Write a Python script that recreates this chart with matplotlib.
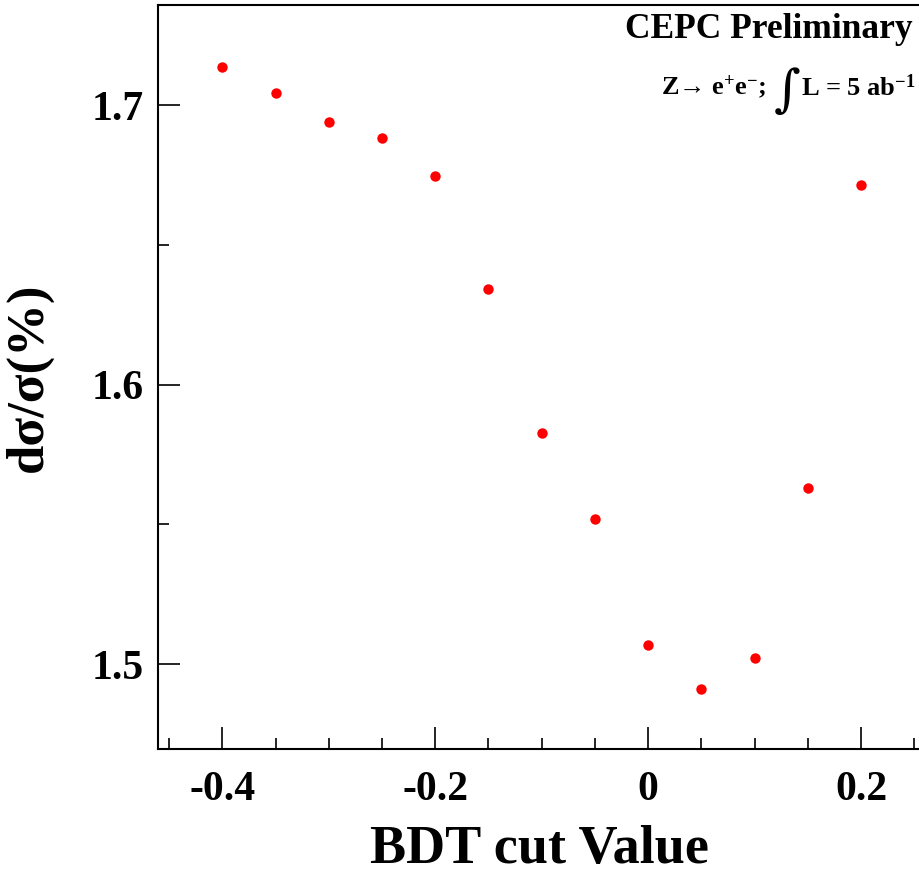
import numpy as np
import matplotlib.pyplot as plt
from matplotlib.ticker import MultipleLocator

# BDT cut scan
bdt_cut = [-0.4, -0.35, -0.3, -0.25, -0.2, -0.15, -0.1, -0.05, 0.0, 0.05, 0.1, 0.15, 0.2]
precision = [1.7135, 1.7043, 1.6940, 1.6882, 1.6746, 1.6343, 1.5825, 1.5520,
             1.5068, 1.4912, 1.5023, 1.5631, 1.6715]

plt.rcParams['font.family'] = ['Liberation Serif', 'DejaVu Serif']
plt.rcParams['font.weight'] = 'bold'
plt.rcParams['mathtext.fontset'] = 'custom'
plt.rcParams['mathtext.rm'] = 'Liberation Serif:bold'
plt.rcParams['mathtext.it'] = 'Liberation Serif:bold'
plt.rcParams['mathtext.bf'] = 'Liberation Serif:bold'

fig = plt.figure(figsize=(9.2, 8.75), dpi=100)
ax = fig.add_axes([158 / 920, 1 - 749 / 875, 1 - 158 / 920, (749 - 5) / 875])

ax.plot(bdt_cut, precision, 'o', color='#ff0000', markersize=7.5, markeredgewidth=0)

ax.set_xlim(-0.4604, 0.2554)
ax.set_ylim(1.4696, 1.7358)
ax.xaxis.set_major_locator(MultipleLocator(0.2))
ax.xaxis.set_minor_locator(MultipleLocator(0.05))
ax.yaxis.set_major_locator(MultipleLocator(0.1))
ax.yaxis.set_minor_locator(MultipleLocator(0.05))
ax.xaxis.set_major_formatter(plt.FuncFormatter(lambda v, p: '0' if abs(v) < 1e-9 else f'{v:.1f}'))

ax.tick_params(which='both', direction='in', width=1.2, labelsize=30, top=False, right=False)
ax.tick_params(which='major', length=16, pad=10)
ax.tick_params(which='minor', length=8)
ax.tick_params(axis='x', pad=16)
for lab in ax.get_xticklabels() + ax.get_yticklabels():
    lab.set_fontweight('bold')

ax.spines['right'].set_visible(False)
for s in ['left', 'bottom', 'top']:
    ax.spines[s].set_linewidth(1.5)

ax.set_xlabel('BDT cut Value', fontsize=39, fontweight='bold', labelpad=11)
ax.set_ylabel('dσ/σ(%)', fontsize=38, fontweight='bold', labelpad=28)

fig.text(0.992, 0.966, 'CEPC Preliminary', fontsize=25.5, fontweight='bold', ha='right', va='center')
fig.text(0.995, 0.900, r'L = 5 ab$^{-1}$', fontsize=19, fontweight='bold', ha='right', va='center')
fig.text(787 / 920, 0.894, '∫', fontsize=37, fontweight='normal', ha='center', va='center',
         family=['DejaVu Serif'])
fig.text(766 / 920, 0.900, r'Z→ e$^{+}$e$^{-}$;', fontsize=19, fontweight='bold', ha='right', va='center')

fig.savefig('out.png', dpi=100)
